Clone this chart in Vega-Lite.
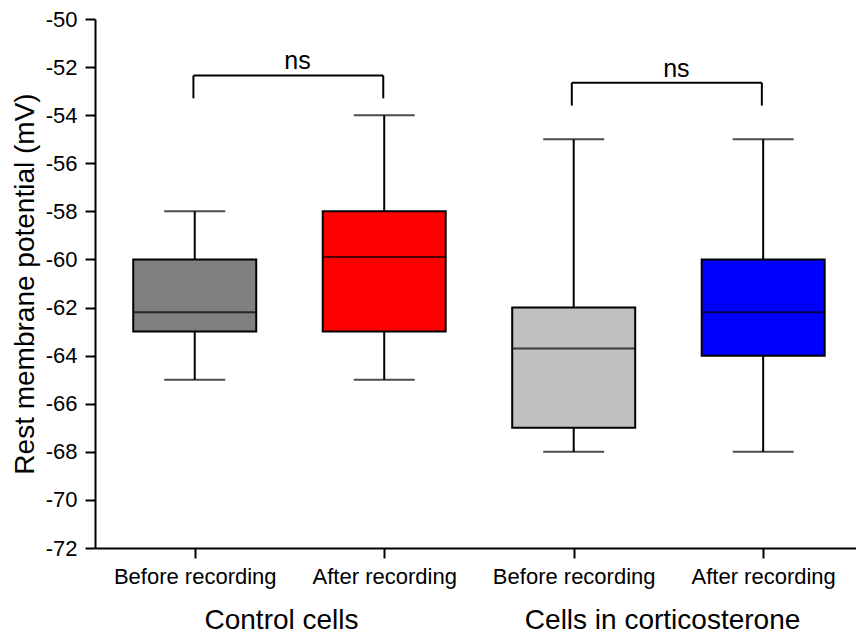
{
  "$schema": "https://vega.github.io/schema/vega-lite/v6.json",
  "width": 761,
  "height": 529,
  "autosize": {"type": "none"},
  "padding": {"left": 95, "top": 19, "right": 0, "bottom": 87},
  "background": "white",
  "config": {
    "view": {"stroke": null},
    "font": "Liberation Sans",
    "axis": {
      "grid": false,
      "domainColor": "black",
      "domainWidth": 2,
      "tickColor": "black",
      "tickWidth": 2,
      "labelColor": "black",
      "titleColor": "black",
      "labelFont": "Liberation Sans",
      "titleFont": "Liberation Sans",
      "titleFontWeight": "normal"
    }
  },
  "datasets": {
    "boxes": [
      {"key": "Control cells / Before recording", "pos": 1, "lower": -65, "q1": -63, "median": -62.2, "q3": -60, "upper": -58},
      {"key": "Control cells / After recording", "pos": 2, "lower": -65, "q1": -63, "median": -59.9, "q3": -58, "upper": -54},
      {"key": "Cells in corticosterone / Before recording", "pos": 3, "lower": -68, "q1": -67, "median": -63.7, "q3": -62, "upper": -55},
      {"key": "Cells in corticosterone / After recording", "pos": 4, "lower": -68, "q1": -64, "median": -62.2, "q3": -60, "upper": -55}
    ],
    "brackets": [
      {"x1": 0.993, "x2": 1.995, "top": -52.35, "bottom": -53.3, "tx": 1.542, "ty": -52.09, "label": "ns"},
      {"x1": 2.99, "x2": 3.993, "top": -52.65, "bottom": -53.6, "tx": 3.542, "ty": -52.4, "label": "ns"}
    ],
    "groups": [
      {"gx": 1.458, "glabel": "Control cells"},
      {"gx": 3.469, "glabel": "Cells in corticosterone"}
    ]
  },
  "layer": [
    {
      "data": {"name": "boxes"},
      "mark": {"type": "rule", "color": "black", "strokeWidth": 2},
      "encoding": {
        "x": {
          "field": "pos", "type": "quantitative",
          "scale": {"domain": [0.5, 4.4635], "nice": false, "zero": false},
          "axis": {
            "values": [1, 2, 3, 4],
            "title": null,
            "labelExpr": "datum.value % 2 == 1 ? 'Before recording' : 'After recording'",
            "labelFontSize": 22,
            "labelPadding": 8,
            "tickSize": 10
          }
        },
        "y": {
          "field": "lower", "type": "quantitative",
          "scale": {"domain": [-72, -50], "nice": false, "zero": false},
          "axis": {
            "values": [-72, -71, -70, -69, -68, -67, -66, -65, -64, -63, -62, -61, -60, -59, -58, -57, -56, -55, -54, -53, -52, -51, -50],
            "labelExpr": "datum.value % 2 == 0 ? toString(datum.value) : ''",
            "tickSize": {"condition": {"test": "datum.value % 2 == 0", "value": 10}, "value": 5},
            "labelFontSize": 22,
            "labelPadding": 8,
            "title": "Rest membrane potential (mV)",
            "titleFontSize": 28,
            "titlePadding": 6
          }
        },
        "y2": {"field": "upper"}
      }
    },
    {
      "data": {"name": "boxes"},
      "mark": {"type": "tick", "orient": "horizontal", "size": 61, "thickness": 2, "color": "black"},
      "encoding": {
        "x": {"field": "pos", "type": "quantitative"},
        "y": {"field": "lower", "type": "quantitative"}
      }
    },
    {
      "data": {"name": "boxes"},
      "mark": {"type": "tick", "orient": "horizontal", "size": 61, "thickness": 2, "color": "black"},
      "encoding": {
        "x": {"field": "pos", "type": "quantitative"},
        "y": {"field": "upper", "type": "quantitative"}
      }
    },
    {
      "data": {"name": "boxes"},
      "mark": {"type": "bar", "width": 123, "stroke": "black", "strokeWidth": 2, "opacity": 1},
      "encoding": {
        "x": {"field": "pos", "type": "quantitative"},
        "y": {"field": "q1", "type": "quantitative"},
        "y2": {"field": "q3"},
        "fill": {
          "field": "key", "type": "nominal", "legend": null,
          "scale": {
            "domain": ["Control cells / Before recording", "Control cells / After recording", "Cells in corticosterone / Before recording", "Cells in corticosterone / After recording"],
            "range": ["#808080", "#ff0000", "#c0c0c0", "#0000ff"]
          }
        }
      }
    },
    {
      "data": {"name": "boxes"},
      "mark": {"type": "tick", "orient": "horizontal", "size": 123, "thickness": 2, "color": "black"},
      "encoding": {
        "x": {"field": "pos", "type": "quantitative"},
        "y": {"field": "median", "type": "quantitative"}
      }
    },
    {
      "data": {"name": "brackets"},
      "mark": {"type": "rule", "color": "black", "strokeWidth": 2},
      "encoding": {
        "x": {"field": "x1", "type": "quantitative"},
        "x2": {"field": "x2"},
        "y": {"field": "top", "type": "quantitative"}
      }
    },
    {
      "data": {"name": "brackets"},
      "mark": {"type": "rule", "color": "black", "strokeWidth": 2},
      "encoding": {
        "x": {"field": "x1", "type": "quantitative"},
        "y": {"field": "top", "type": "quantitative"},
        "y2": {"field": "bottom"}
      }
    },
    {
      "data": {"name": "brackets"},
      "mark": {"type": "rule", "color": "black", "strokeWidth": 2},
      "encoding": {
        "x": {"field": "x2", "type": "quantitative"},
        "y": {"field": "top", "type": "quantitative"},
        "y2": {"field": "bottom"}
      }
    },
    {
      "data": {"name": "brackets"},
      "mark": {"type": "text", "fontSize": 25, "baseline": "alphabetic", "align": "center", "color": "black"},
      "encoding": {
        "x": {"field": "tx", "type": "quantitative"},
        "y": {"field": "ty", "type": "quantitative"},
        "text": {"field": "label"}
      }
    },
    {
      "data": {"name": "groups"},
      "mark": {"type": "text", "fontSize": 28, "baseline": "alphabetic", "align": "center", "color": "black", "dy": 81},
      "encoding": {
        "x": {"field": "gx", "type": "quantitative"},
        "y": {"datum": -72, "type": "quantitative"},
        "text": {"field": "glabel"}
      }
    }
  ]
}
